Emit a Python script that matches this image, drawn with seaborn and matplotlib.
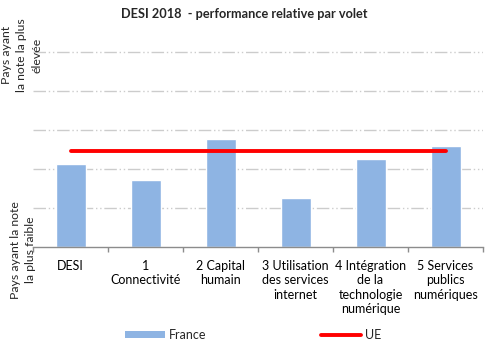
import pandas as pd
import matplotlib.pyplot as plt
import seaborn as sns
from matplotlib.patches import Patch
from matplotlib.lines import Line2D
from matplotlib.ticker import FixedLocator

categories = [
    "DESI",
    "1\nConnectivité",
    "2 Capital\nhumain",
    "3 Utilisation\ndes services\ninternet",
    "4 Intégration\nde la\ntechnologie\nnumérique",
    "5 Services\npublics\nnumériques",
]
france = [0.424, 0.344, 0.552, 0.250, 0.450, 0.518]
ue = [0.495, 0.495, 0.495, 0.495, 0.495, 0.495]

BAR = "#8EB4E3"
RED = "#FF0000"

sns.set_theme(style="white")
plt.rcParams["font.family"] = ["Lato", "DejaVu Sans"]

df = pd.DataFrame({"volet": categories, "France": france, "UE": ue})

fig = plt.figure(figsize=(5, 3.57), dpi=100)
ax = fig.add_axes([0.066, 0.3073, 0.9, 0.558])

sns.barplot(data=df, x="volet", y="France", color=BAR, width=0.4,
            saturation=1, ax=ax)
ax.plot(df["volet"], df["UE"], color=RED, lw=2.8, solid_capstyle="round")

ax.set_xlim(-0.5, 5.5)
ax.set_ylim(0, 1.02)
ax.set_yticks([0.2, 0.4, 0.6, 0.8, 1.0])
ax.set_yticklabels([])
ax.tick_params(axis="y", length=0)
ax.yaxis.grid(True, color="#CCCCCC", lw=1, linestyle=(0, (9, 2, 1, 2, 1, 2)))
ax.set_axisbelow(True)
ax.set_xlabel("")
ax.set_ylabel("")

for s in ["left", "right", "top"]:
    ax.spines[s].set_visible(False)
ax.spines["bottom"].set_color("#8C8C8C")
ax.spines["bottom"].set_linewidth(1)

ax.tick_params(axis="x", which="major", length=0, pad=9, labelsize=9,
               colors="black")
ax.xaxis.set_minor_locator(FixedLocator([-0.5, 0.5, 1.5, 2.5, 3.5, 4.5, 5.5]))
ax.tick_params(axis="x", which="minor", length=3.5, width=1, color="#8C8C8C",
               direction="out", bottom=True)
for lab in ax.get_xticklabels():
    lab.set_linespacing(1.25)
    lab.set_va("top")

fig.text(0.488, 0.96, "DESI 2018  - performance relative par volet",
         ha="center", va="center", fontsize=9.2, fontweight="bold")

fig.text(0.044, 0.846, "Pays ayant\nla note la plus\nélevée", rotation=90,
         ha="center", va="center", multialignment="center", fontsize=8.8,
         linespacing=1.45)
fig.text(0.046, 0.30, "Pays ayant la note\nla plus faible", rotation=90,
         ha="center", va="center", multialignment="center", fontsize=8.8,
         linespacing=1.45)

handles = [Patch(facecolor=BAR, edgecolor="none"),
           Line2D([0], [0], color=RED, lw=2.8)]
fig.legend(handles, ["France", "UE"], loc="center", ncol=2,
           bbox_to_anchor=(0.506, 0.062), frameon=False, fontsize=9,
           handlelength=3.2, handleheight=0.55, handletextpad=0.3,
           columnspacing=9.2)

fig.savefig("out.png", dpi=100)
